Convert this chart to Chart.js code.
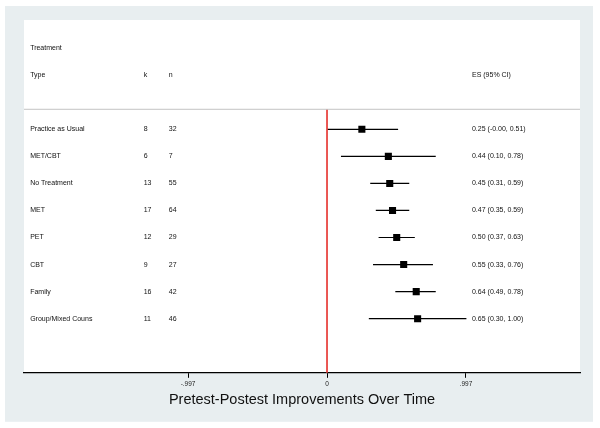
<!DOCTYPE html>
<html>
<head>
<meta charset="utf-8">
<script src="https://cdn.jsdelivr.net/npm/chart.js@4/dist/chart.umd.min.js"></script>
<style>
  html, body { margin: 0; padding: 0; background: #fff; }
  canvas { display: block; }
</style>
</head>
<body>
<canvas id="forest" width="600" height="428"></canvas>
<script>
// data
const treatments = ["Practice as Usual", "MET/CBT", "No Treatment", "MET", "PET", "CBT", "Family", "Group/Mixed Couns"];
const kValues = [8, 6, 13, 17, 12, 9, 16, 11];
const nValues = [32, 7, 55, 64, 29, 27, 42, 46];
const esValues = [0.25, 0.44, 0.45, 0.47, 0.50, 0.55, 0.64, 0.65];
const ciLow = [-0.00, 0.10, 0.31, 0.35, 0.37, 0.33, 0.49, 0.30];
const ciHigh = [0.51, 0.78, 0.59, 0.59, 0.63, 0.76, 0.78, 1.00];
const tickValues = [-0.997, 0, 0.997];
const tickLabels = ["-.997", "0", ".997"];

// layout of the text columns (in x-axis units) and header rows
const X_MIN = -2.174, X_MAX = 1.815;
const Y_MIN = -4.04, Y_MAX = 9.0;
const colLabel = -2.13, colK = -1.315, colN = -1.135, colES = 1.04;
const rowTreatment = -3, rowType = -2, rowRule = -0.74;

const fmt = v => v.toFixed(2);

const datasets = [];

// header rule + null line
datasets.push({
  type: "line",
  data: [{ x: X_MIN, y: rowRule }, { x: X_MAX, y: rowRule }],
  borderColor: "#c4c4c4", borderWidth: 1, pointRadius: 0
});
datasets.push({
  type: "line",
  data: [{ x: 0, y: rowRule }, { x: 0, y: Y_MAX }],
  borderColor: "#e8403c", borderWidth: 1, pointRadius: 0
});

// confidence intervals
treatments.forEach((t, i) => {
  datasets.push({
    type: "line",
    data: [{ x: ciLow[i], y: i }, { x: ciHigh[i], y: i }],
    borderColor: "#000", borderWidth: 1.2, pointRadius: 0
  });
});

// point estimates
datasets.push({
  type: "scatter",
  data: esValues.map((v, i) => ({ x: v, y: i })),
  pointStyle: "rect", pointRadius: 5, backgroundColor: "#000", borderColor: "#000", borderWidth: 0
});

// background panels + text columns
const forestDecor = {
  id: "forestDecor",
  beforeDraw(chart) {
    const { ctx, chartArea: a } = chart;
    ctx.save();
    ctx.fillStyle = "#fff";
    ctx.fillRect(0, 0, chart.width, chart.height);
    ctx.fillStyle = "#e8eef0";
    ctx.fillRect(a.left - 19, a.top - 14, a.right - a.left + 32, a.bottom - a.top + 63);
    ctx.fillStyle = "#fff";
    ctx.fillRect(a.left, a.top, a.right - a.left, a.bottom - a.top);
    ctx.restore();
  },
  afterDatasetsDraw(chart) {
    const { ctx, scales: { x, y } } = chart;
    ctx.save();
    ctx.fillStyle = "#111";
    ctx.font = "7px 'Liberation Sans', Arial, sans-serif";
    ctx.textBaseline = "middle";
    ctx.textAlign = "left";
    const put = (txt, cx, row) => ctx.fillText(txt, x.getPixelForValue(cx), y.getPixelForValue(row));
    put("Treatment", colLabel, rowTreatment);
    put("Type", colLabel, rowType);
    put("k", colK, rowType);
    put("n", colN, rowType);
    put("ES (95% CI)", colES, rowType);
    treatments.forEach((t, i) => {
      put(t, colLabel, i);
      put(String(kValues[i]), colK, i);
      put(String(nValues[i]), colN, i);
      put(fmt(esValues[i]) + " (" + (ciLow[i] === 0 ? "-0.00" : fmt(ciLow[i])) + ", " + fmt(ciHigh[i]) + ")", colES, i);
    });
    ctx.restore();
  }
};

new Chart(document.getElementById("forest"), {
  data: { datasets },
  options: {
    responsive: false,
    animation: false,
    devicePixelRatio: 1,
    layout: { padding: { left: 24, right: 20, top: 20, bottom: 19 } },
    plugins: { legend: { display: false }, tooltip: { enabled: false } },
    scales: {
      x: {
        type: "linear",
        min: X_MIN, max: X_MAX,
        afterBuildTicks: s => { s.ticks = tickValues.map(v => ({ value: v })); },
        ticks: {
          autoSkip: false, maxRotation: 0, padding: 3,
          color: "#222",
          font: { size: 6.5, family: "'Liberation Sans', Arial, sans-serif" },
          callback: (v, idx) => tickLabels[idx]
        },
        grid: { drawOnChartArea: false, drawTicks: true, tickLength: 5, color: "#000", tickWidth: 1 },
        border: { display: true, color: "#000", width: 1.2 },
        title: {
          display: true,
          text: "Pretest-Postest Improvements Over Time",
          color: "#111",
          font: { size: 14.5, family: "'Liberation Sans', Arial, sans-serif" },
          padding: { top: 0, bottom: 0 }
        }
      },
      y: {
        type: "linear", display: false, reverse: true,
        min: Y_MIN, max: Y_MAX
      }
    }
  },
  plugins: [forestDecor]
});
</script>
</body>
</html>
